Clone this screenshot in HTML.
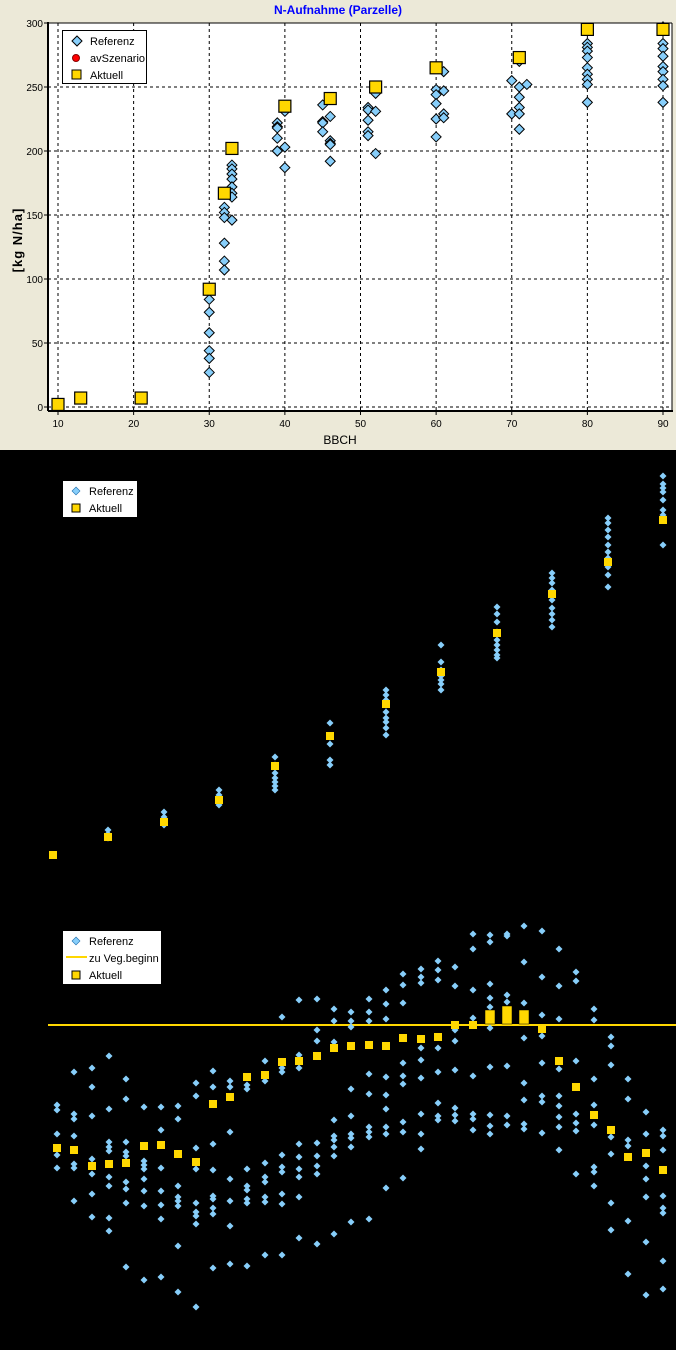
<!DOCTYPE html>
<html><head><meta charset="utf-8">
<style>
html,body{margin:0;padding:0;background:#000;}
svg{display:block;font-family:"Liberation Sans",sans-serif;}
</style></head>
<body>
<svg id="s" width="676" height="1350" viewBox="0 0 676 1350" xmlns="http://www.w3.org/2000/svg">
<rect x="0" y="0" width="676" height="450" fill="#ECE9D8"/>
<rect x="0" y="450" width="676" height="900" fill="#000"/>
<rect x="48" y="23" width="624" height="388" fill="#fff"/>
<g id="grid" stroke="#000" stroke-dasharray="3,3" stroke-width="1"></g>
<line x1="48" y1="22" x2="48" y2="411" stroke="#000" stroke-width="2"/>
<line x1="48" y1="411" x2="673" y2="411" stroke="#000" stroke-width="2"/>
<line x1="48" y1="23" x2="672" y2="23" stroke="#000" stroke-width="1"/>
<line x1="672" y1="23" x2="672" y2="411" stroke="#000" stroke-width="1"/>
<text x="338" y="14" text-anchor="middle" font-size="12" font-weight="bold" fill="#0000FF">N-Aufnahme (Parzelle)</text>
<text x="340" y="444" text-anchor="middle" font-size="12" fill="#000">BBCH</text>
<text transform="translate(22,240) rotate(-90)" text-anchor="middle" font-size="13" font-weight="bold" fill="#000" letter-spacing="1">[kg N/ha]</text>
<g id="ticks" font-size="10" fill="#000"></g>
<g id="top"></g>
<rect x="62.5" y="30.5" width="84" height="53" fill="#fff" stroke="#000"/>
<path d="M77 36 l5 5 l-5 5 l-5 -5z" fill="#87CEFA" stroke="#000"/>
<text x="90" y="45" font-size="11">Referenz</text>
<circle cx="76" cy="58" r="3.5" fill="#f00" stroke="#800"/>
<text x="90" y="62" font-size="11">avSzenario</text>
<rect x="72" y="70" width="9" height="9" fill="#FFD700" stroke="#000"/>
<text x="90" y="79" font-size="11">Aktuell</text>
<g id="mid"></g>
<rect x="63" y="481" width="74" height="36" fill="#fff"/>
<path d="M76 487 l4 4 l-4 4 l-4 -4z" fill="#87CEFA" stroke="#1E6FB0" stroke-width="0.6"/>
<text x="89" y="495" font-size="11">Referenz</text>
<rect x="72" y="504" width="8" height="8" fill="#FFD700" stroke="#000"/>
<text x="89" y="512" font-size="11">Aktuell</text>
<line x1="48" y1="1025" x2="676" y2="1025" stroke="#FFD700" stroke-width="2"/>
<g id="bot"></g>
<rect x="63" y="931" width="98" height="53" fill="#fff"/>
<path d="M76 937 l4 4 l-4 4 l-4 -4z" fill="#87CEFA" stroke="#1E6FB0" stroke-width="0.6"/>
<text x="89" y="945" font-size="11">Referenz</text>
<line x1="66" y1="957" x2="87" y2="957" stroke="#FFD700" stroke-width="2"/>
<text x="89" y="962" font-size="11">zu Veg.beginn</text>
<rect x="72" y="971" width="8" height="8" fill="#FFD700" stroke="#000"/>
<text x="89" y="979" font-size="11">Aktuell</text>
</svg>
<script>
var NS="http://www.w3.org/2000/svg";
function el(p,t,a){var e=document.createElementNS(NS,t);for(var k in a)e.setAttribute(k,a[k]);document.getElementById(p).appendChild(e);return e;}
// grid & ticks
function X(v){return 58+(v-10)*7.5625;}
function Y(v){return 407-v*1.28;}
for(var v=10;v<=90;v+=10){var x=X(v);el("grid","line",{x1:x,y1:23,x2:x,y2:411});el("ticks","line",{x1:x,y1:411,x2:x,y2:415,stroke:"#000"});var t=el("ticks","text",{x:x,y:427,"text-anchor":"middle"});t.textContent=v;}
for(var v=0;v<=300;v+=50){var y=Y(v);el("grid","line",{x1:48,y1:y,x2:672,y2:y});el("ticks","line",{x1:44,y1:y,x2:48,y2:y,stroke:"#000"});var t=el("ticks","text",{x:43,y:y+4,"text-anchor":"end"});t.textContent=v;}
function dT(x,y){el("top","path",{d:"M"+x+" "+(y-5)+" l5 5 l-5 5 l-5 -5z",fill:"#87CEFA",stroke:"#000","stroke-width":"1"});}
function sT(x,y){el("top","rect",{x:x-6,y:y-6,width:12,height:12,fill:"#FFD700",stroke:"#000","stroke-width":"1.2"});}
var topD={30:[84,74,58,44,38,27],32:[156,152,148,128,114,107],33:[189,186,182,178,172,167,164,146],39:[222,219,218,210,200,200],40:[231,203,187],45:[236,223,222,215],46:[227,208,206,205,192],51:[234,232,224,215,212],52:[245,231,198],60:[248,244,237,225,211],61:[262,247,229,226],70:[255,229],71:[270,250,242,234,229,217],72:[252],80:[284,281,278,273,265,260,256,252,238],90:[297,284,280,274,266,262,256,251,238]};
for(var b in topD)topD[b].forEach(function(v){dT(X(+b),Y(v));});
[[10,2],[13,7],[21,7],[30,92],[32,167],[33,202],[40,235],[46,241],[52,250],[60,265],[71,273],[80,295],[90,295]].forEach(function(p){sT(X(p[0]),Y(p[1]));});
function dB(g,x,y){el(g,"path",{d:"M"+x+" "+(y-3.5)+" l3.5 3.5 l-3.5 3.5 l-3.5 -3.5z",fill:"#87CEFA"});}
function sB(g,x,y){el(g,"rect",{x:x-4,y:y-4,width:8,height:8,fill:"#FFD700"});}
var mid=[[53,[],855],[108,[830,834,838],837],[164,[812,817,822,825],822],[219,[790,795,800,805],800],[275,[757,765,773,778,782,786,790],766],[330,[723,737,744,760,765],736],[386,[690,695,700,705,712,718,722,728,735],704],[441,[645,662,670,676,680,684,690],672],[497,[607,614,622,632,640,645,650,655,658],633],[552,[573,578,583,590,595,600,608,614,620,627],594],[608,[518,523,530,537,545,552,558,567,575,587],562],[663,[476,484,488,492,500,510,515,545],520]];
mid.forEach(function(c){c[1].forEach(function(y){dB("mid",c[0],y);});sB("mid",c[0],c[2]);});
var bot=[[57,[1105,1110,1134,1155,1168],1148],[74,[1072,1114,1119,1136,1164,1168,1201],1150],[92,[1068,1087,1116,1159,1174,1194,1217],1166],[109,[1056,1109,1142,1147,1151,1177,1186,1218,1231],1164],[126,[1079,1099,1142,1152,1156,1182,1189,1203,1267],1163],[144,[1107,1161,1165,1169,1179,1191,1206,1280],1146],[161,[1107,1130,1168,1191,1205,1219,1277],1145],[178,[1106,1119,1186,1197,1201,1206,1246,1292],1154],[196,[1083,1096,1148,1169,1203,1212,1216,1224,1307],1162],[213,[1071,1087,1144,1170,1196,1199,1208,1214,1268],1104],[230,[1081,1087,1132,1179,1201,1226,1264],1097],[247,[1085,1089,1169,1186,1190,1199,1203,1266],1077],[265,[1061,1081,1163,1177,1182,1197,1202,1255],1075],[282,[1017,1068,1072,1155,1167,1172,1194,1204,1255],1062],[299,[1000,1055,1068,1144,1157,1169,1177,1197,1238],1061],[317,[999,1030,1041,1143,1156,1166,1174,1244],1056],[334,[1009,1021,1042,1120,1136,1140,1147,1156,1234],1048],[351,[1012,1021,1027,1089,1116,1134,1138,1147,1222],1046],[369,[999,1012,1021,1074,1094,1127,1132,1137,1219],1045],[386,[990,1004,1019,1077,1095,1109,1127,1134,1188],1046],[403,[974,985,1003,1063,1076,1084,1122,1132,1178],1038],[421,[969,977,983,1048,1060,1078,1114,1134,1149],1039],[438,[961,970,980,1048,1072,1103,1116,1120],1037],[455,[967,986,1030,1041,1070,1108,1115,1121],1025],[473,[934,949,990,1018,1076,1114,1119,1130],1025],[490,[935,942,984,998,1007,1028,1067,1115,1126,1134],0],[507,[934,936,995,1002,1066,1116,1125],0],[524,[926,962,1003,1038,1083,1100,1124,1129],0],[542,[931,977,1015,1036,1063,1096,1102,1133],1029],[559,[949,986,1019,1069,1096,1106,1117,1127,1150],1061],[576,[972,981,1061,1114,1123,1131,1174],1087],[594,[1009,1020,1079,1105,1125,1167,1172,1186],1115],[611,[1037,1046,1065,1137,1154,1203,1230],1130],[628,[1079,1099,1140,1146,1221,1274],1157],[646,[1112,1134,1166,1179,1197,1242,1295],1153],[663,[1130,1136,1150,1196,1208,1213,1261,1289],1170]];
bot.forEach(function(c){c[1].forEach(function(y){dB("bot",c[0],y);});if(c[2])sB("bot",c[0],c[2]);});
[[490,1010],[507,1006],[524,1010]].forEach(function(p){el("bot","rect",{x:p[0]-5,y:p[1],width:10,height:1024-p[1],fill:"#FFD700",stroke:"#000","stroke-width":"0.5"});});
</script>
</body></html>
